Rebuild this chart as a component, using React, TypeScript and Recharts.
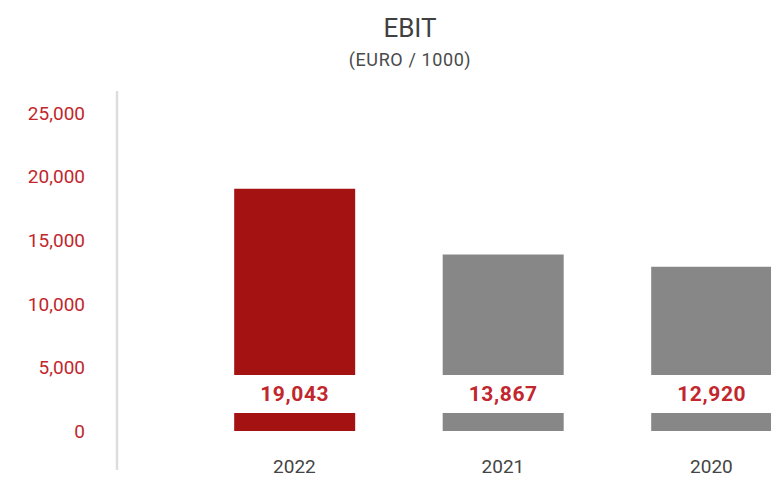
import { BarChart, Bar, XAxis, YAxis, Cell, LabelList } from 'recharts';

const years = ['2022', '2021', '2020'];
const ebit = [19043, 13867, 12920];
const barColors = ['#a51212', '#878787', '#878787'];
const yTicks = [0, 5000, 10000, 15000, 20000, 25000];

const RED_TEXT = '#c1272d';
const FONT = 'Roboto, sans-serif';

const chartData = years.map((year, i) => ({ idx: i, year, ebit: ebit[i] }));

const fmt = (v: number) => v.toLocaleString('en-US');

// white band with the value, cut into the lower part of each bar
function ValueLabel(props: any) {
  const { x, y, width, height, value } = props;
  const bottom = Number(y) + Number(height);
  const cx = Number(x) + Number(width) / 2;
  return (
    <g>
      <rect x={Number(x) - 1} y={bottom - 56} width={Number(width) + 2} height={38} fill="#ffffff" />
      <text
        x={cx}
        y={bottom - 37}
        textAnchor="middle"
        dominantBaseline="central"
        fill={RED_TEXT}
        fontFamily={FONT}
        fontWeight={700}
        fontSize={21}
        letterSpacing={0.6}
      >
        {fmt(Number(value))}
      </text>
    </g>
  );
}

function YearTick(props: any) {
  const { x, y, payload } = props;
  return (
    <text
      x={x}
      y={Number(y) - 4}
      textAnchor="middle"
      dominantBaseline="central"
      fill="#444444"
      fontFamily={FONT}
      fontSize={19}
    >
      {years[payload.value]}
    </text>
  );
}

export default function App() {
  return (
    <div style={{ position: 'relative', width: 771, height: 469, background: '#fff' }}>
      <div
        style={{
          position: 'absolute',
          left: 0,
          width: 804,
          top: 6,
          textAlign: 'center',
          fontFamily: FONT,
          color: '#404040',
        }}
      >
        <div style={{ fontSize: 26, lineHeight: '28px' }}>EBIT</div>
        <div style={{ fontSize: 18, lineHeight: '20px', marginTop: 8, color: '#4a4a4a', letterSpacing: 0.6 }}>
          (EURO / 1000)
        </div>
      </div>
      <BarChart
        width={771}
        height={469}
        data={chartData}
        margin={{ top: 83, right: 0, bottom: 0, left: 0 }}
      >
        <XAxis
          type="number"
          dataKey="idx"
          domain={[-0.851, 2.324]}
          ticks={[0, 1, 2]}
          allowDataOverflow
          axisLine={false}
          tickLine={false}
          tickSize={0}
          tickMargin={0}
          height={7}
          tick={<YearTick />}
          interval={0}
        />
        <YAxis
          domain={[-3066, 26730]}
          ticks={yTicks}
          allowDataOverflow
          width={109}
          tickLine={false}
          tickSize={0}
          tickMargin={32}
          axisLine={{ stroke: '#dddddd', strokeWidth: 2.5 }}
          tick={{ fill: RED_TEXT, fontSize: 19, fontFamily: FONT }}
          tickFormatter={fmt}
          interval={0}
        />
        <Bar dataKey="ebit" barSize={121} isAnimationActive={false}>
          {chartData.map((d, i) => (
            <Cell key={d.year} fill={barColors[i]} />
          ))}
          <LabelList dataKey="ebit" content={<ValueLabel />} />
        </Bar>
      </BarChart>
    </div>
  );
}
